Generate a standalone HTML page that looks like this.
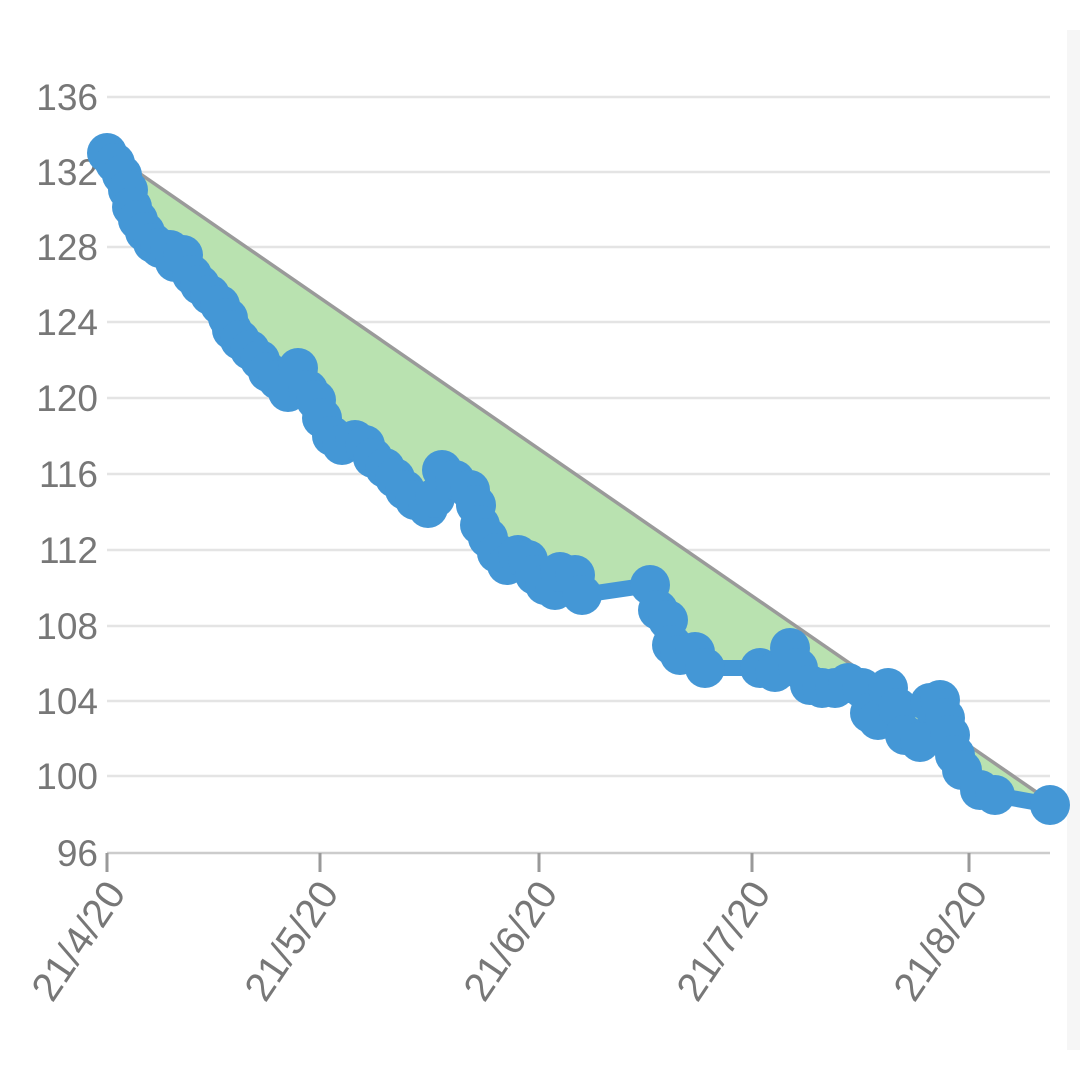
<!DOCTYPE html>
<html><head><style>body{margin:0;background:#fff}svg{display:block}</style></head><body>
<svg width="1080" height="1080" xmlns="http://www.w3.org/2000/svg" font-family="Liberation Sans, sans-serif">
<rect width="1080" height="1080" fill="#fff"/>
<rect x="1067" y="30" width="13" height="1020" fill="#f6f6f6"/>
<g stroke="#e4e4e4" stroke-width="2.5">
<line x1="107" y1="97" x2="1050" y2="97"/><line x1="107" y1="172" x2="1050" y2="172"/>
<line x1="107" y1="247" x2="1050" y2="247"/><line x1="107" y1="322" x2="1050" y2="322"/>
<line x1="107" y1="398" x2="1050" y2="398"/><line x1="107" y1="474" x2="1050" y2="474"/>
<line x1="107" y1="550" x2="1050" y2="550"/><line x1="107" y1="626" x2="1050" y2="626"/>
<line x1="107" y1="701" x2="1050" y2="701"/><line x1="107" y1="776" x2="1050" y2="776"/>
</g>
<line x1="107" y1="853" x2="1050" y2="853" stroke="#ccc" stroke-width="2.5"/>
<g stroke="#999" stroke-width="3">
<line x1="107" y1="853" x2="107" y2="872"/><line x1="320" y1="853" x2="320" y2="872"/>
<line x1="539" y1="853" x2="539" y2="872"/><line x1="752" y1="853" x2="752" y2="872"/>
<line x1="969" y1="853" x2="969" y2="872"/>
</g>
<g fill="#777" font-size="37" text-anchor="end">
<text x="98" y="110">136</text><text x="98" y="185">132</text><text x="98" y="260">128</text>
<text x="98" y="335">124</text><text x="98" y="411">120</text><text x="98" y="487">116</text>
<text x="98" y="563">112</text><text x="98" y="639">108</text><text x="98" y="714">104</text>
<text x="98" y="789">100</text><text x="98" y="866">96</text>
</g>
<g fill="#777" font-size="40" text-anchor="end">
<text transform="translate(127,893) rotate(-56)">21/4/20</text>
<text transform="translate(340,893) rotate(-56)">21/5/20</text>
<text transform="translate(559,893) rotate(-56)">21/6/20</text>
<text transform="translate(772,893) rotate(-56)">21/7/20</text>
<text transform="translate(989,893) rotate(-56)">21/8/20</text>
</g>
<polygon fill="#b9e2b0" points="107,151 1045,798 1050,805 995,795 980,790 962,770 955,755 950,735 945,718 940,700 930,703 920,742 905,735 898,708 888,688 878,720 870,713 862,688 848,683 835,688 822,688 810,685 798,668 790,648 775,672 760,668 705,668 695,652 680,655 672,645 668,620 658,610 650,585 582,595 575,575 560,572 555,590 545,585 535,575 528,560 518,555 507,565 497,553 488,538 480,525 476,505 470,490 455,480 442,470 435,498 428,508 415,500 405,490 395,478 385,468 373,458 365,445 355,440 342,445 332,436 322,418 316,400 308,390 298,368 288,392 278,380 268,372 260,360 250,350 240,340 232,330 228,318 220,305 210,295 200,285 192,275 183,255 175,262 170,250 160,248 153,243 145,232 138,220 132,207 128,190 122,175 115,163"/>
<line x1="107" y1="151" x2="1045" y2="798" stroke="#9a9a9a" stroke-width="3.5"/>
<polyline fill="none" stroke="#4497d6" stroke-width="16" stroke-linejoin="round" points="107,153 115,163 122,175 128,190 132,207 138,220 145,232 153,243 160,248 170,250 175,262 183,255 192,275 200,285 210,295 220,305 228,318 232,330 240,340 250,350 260,360 268,372 278,380 288,392 298,368 308,390 316,400 322,418 332,436 342,445 355,440 365,445 373,458 385,468 395,478 405,490 415,500 428,508 435,498 442,470 455,480 470,490 476,505 480,525 488,538 497,553 507,565 518,555 528,560 535,575 545,585 555,590 560,572 575,575 582,595 650,585 658,610 668,620 672,645 680,655 695,652 705,668 760,668 775,672 790,648 798,668 810,685 822,688 835,688 848,683 862,688 870,713 878,720 888,688 898,708 905,735 920,742 930,703 940,700 945,718 950,735 955,755 962,770 980,790 995,795 1050,805"/>
<g fill="#4497d6">
<circle cx="107" cy="153" r="20"/><circle cx="115" cy="163" r="20"/><circle cx="122" cy="175" r="20"/><circle cx="128" cy="190" r="20"/><circle cx="132" cy="207" r="20"/><circle cx="138" cy="220" r="20"/><circle cx="145" cy="232" r="20"/><circle cx="153" cy="243" r="20"/><circle cx="160" cy="248" r="20"/><circle cx="170" cy="250" r="20"/><circle cx="175" cy="262" r="20"/><circle cx="183" cy="255" r="20"/><circle cx="192" cy="275" r="20"/><circle cx="200" cy="285" r="20"/><circle cx="210" cy="295" r="20"/><circle cx="220" cy="305" r="20"/><circle cx="228" cy="318" r="20"/><circle cx="232" cy="330" r="20"/><circle cx="240" cy="340" r="20"/><circle cx="250" cy="350" r="20"/><circle cx="260" cy="360" r="20"/><circle cx="268" cy="372" r="20"/><circle cx="278" cy="380" r="20"/><circle cx="288" cy="392" r="20"/><circle cx="298" cy="368" r="20"/><circle cx="308" cy="390" r="20"/><circle cx="316" cy="400" r="20"/><circle cx="322" cy="418" r="20"/><circle cx="332" cy="436" r="20"/><circle cx="342" cy="445" r="20"/><circle cx="355" cy="440" r="20"/><circle cx="365" cy="445" r="20"/><circle cx="373" cy="458" r="20"/><circle cx="385" cy="468" r="20"/><circle cx="395" cy="478" r="20"/><circle cx="405" cy="490" r="20"/><circle cx="415" cy="500" r="20"/><circle cx="428" cy="508" r="20"/><circle cx="435" cy="498" r="20"/><circle cx="442" cy="470" r="20"/><circle cx="455" cy="480" r="20"/><circle cx="470" cy="490" r="20"/><circle cx="476" cy="505" r="20"/><circle cx="480" cy="525" r="20"/><circle cx="488" cy="538" r="20"/><circle cx="497" cy="553" r="20"/><circle cx="507" cy="565" r="20"/><circle cx="518" cy="555" r="20"/><circle cx="528" cy="560" r="20"/><circle cx="535" cy="575" r="20"/><circle cx="545" cy="585" r="20"/><circle cx="555" cy="590" r="20"/><circle cx="560" cy="572" r="20"/><circle cx="575" cy="575" r="20"/><circle cx="582" cy="595" r="20"/><circle cx="650" cy="585" r="20"/><circle cx="658" cy="610" r="20"/><circle cx="668" cy="620" r="20"/><circle cx="672" cy="645" r="20"/><circle cx="680" cy="655" r="20"/><circle cx="695" cy="652" r="20"/><circle cx="705" cy="668" r="20"/><circle cx="760" cy="668" r="20"/><circle cx="775" cy="672" r="20"/><circle cx="790" cy="648" r="20"/><circle cx="798" cy="668" r="20"/><circle cx="810" cy="685" r="20"/><circle cx="822" cy="688" r="20"/><circle cx="835" cy="688" r="20"/><circle cx="848" cy="683" r="20"/><circle cx="862" cy="688" r="20"/><circle cx="870" cy="713" r="20"/><circle cx="878" cy="720" r="20"/><circle cx="888" cy="688" r="20"/><circle cx="898" cy="708" r="20"/><circle cx="905" cy="735" r="20"/><circle cx="920" cy="742" r="20"/><circle cx="930" cy="703" r="20"/><circle cx="940" cy="700" r="20"/><circle cx="945" cy="718" r="20"/><circle cx="950" cy="735" r="20"/><circle cx="955" cy="755" r="20"/><circle cx="962" cy="770" r="20"/><circle cx="980" cy="790" r="20"/><circle cx="995" cy="795" r="20"/><circle cx="1050" cy="805" r="20"/>
</g>
</svg>
</body></html>
